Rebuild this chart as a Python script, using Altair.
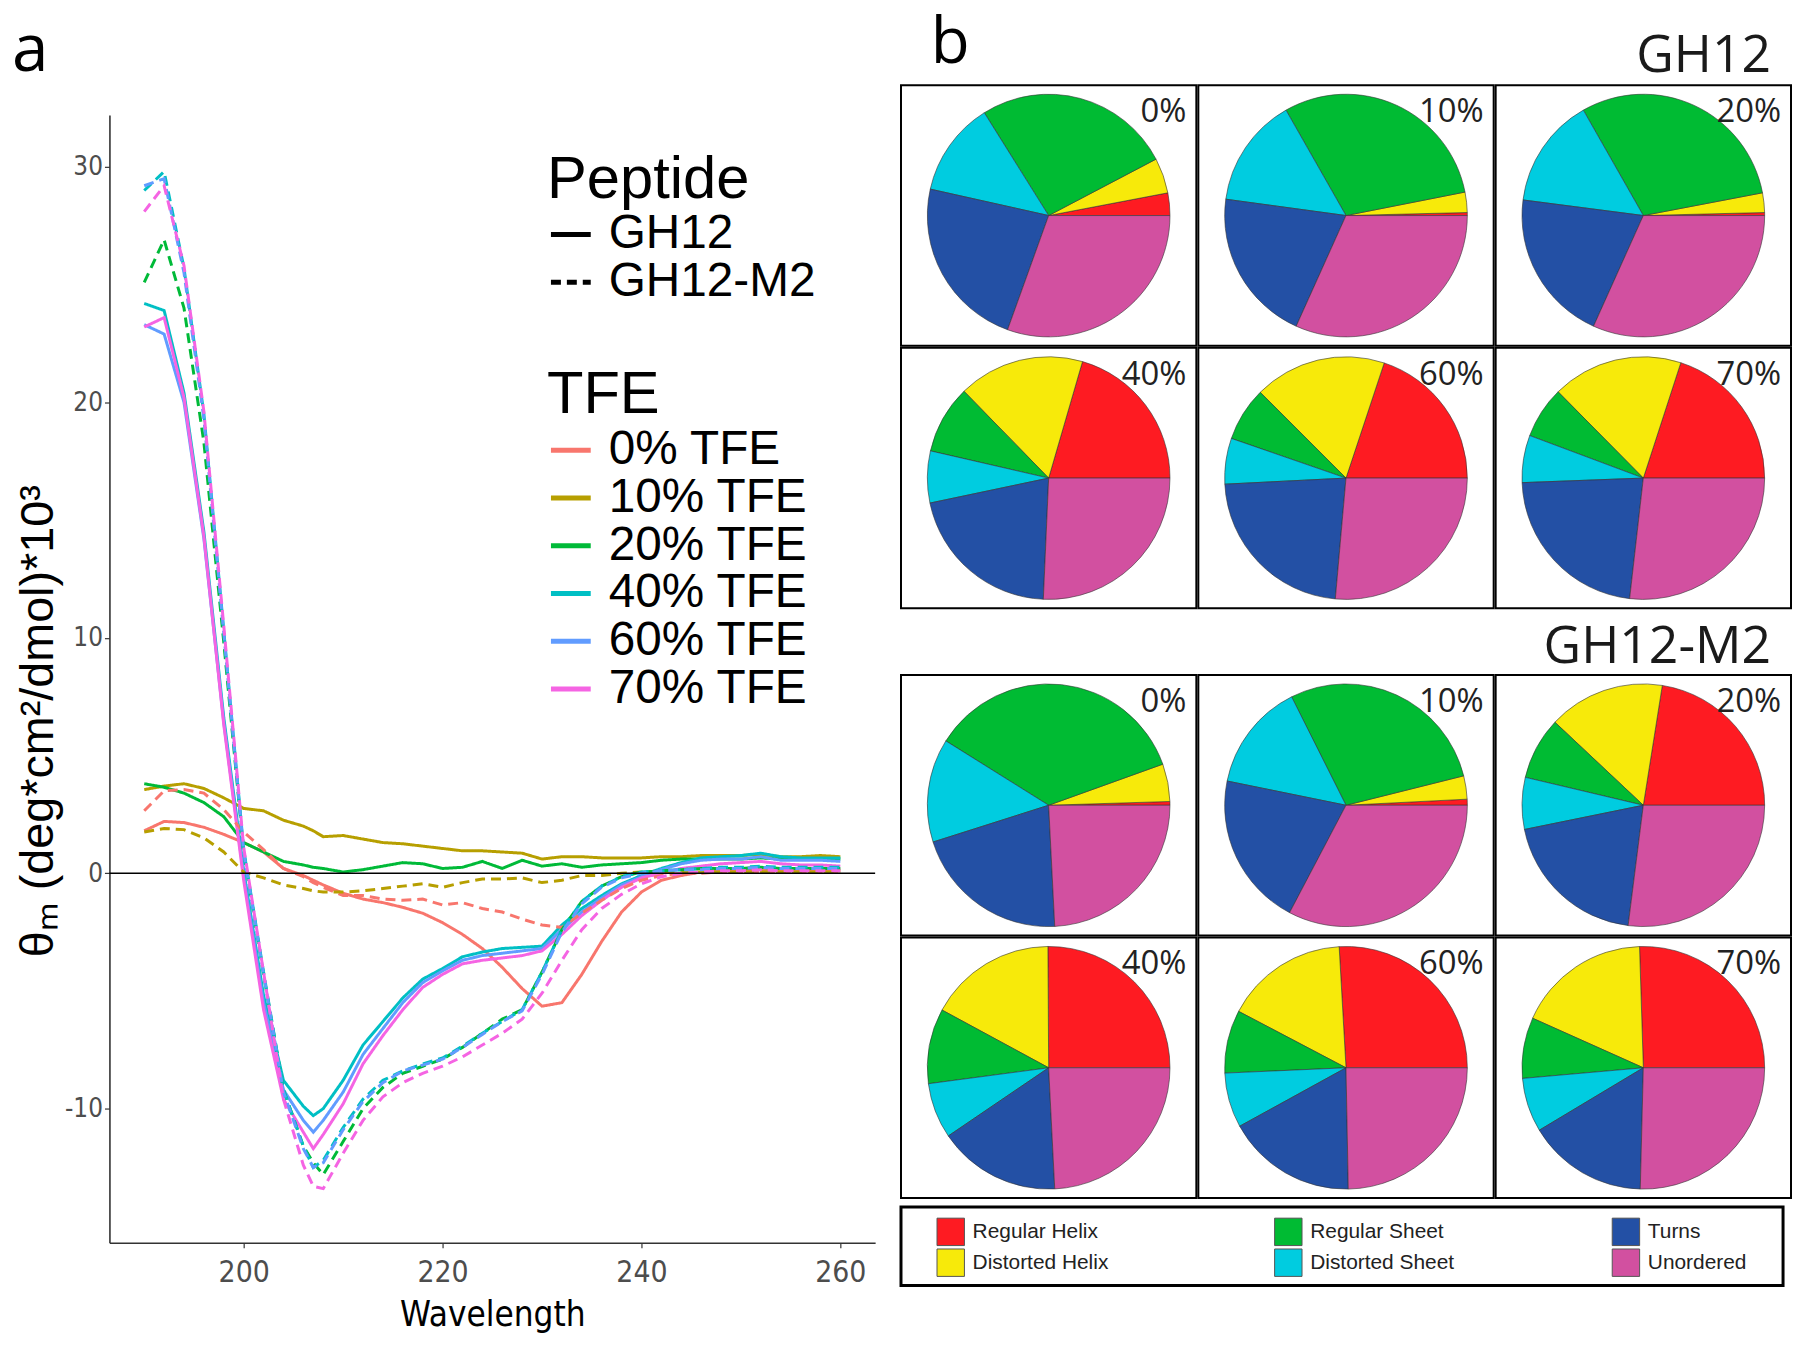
import math
import altair as alt
import pandas as pd

# ---------------- CD spectra data (panel a) ----------------
wavelength = [190, 192, 194, 196, 198, 200, 202, 204, 206, 207, 208, 210, 212, 214, 216, 218, 220,
              222, 224, 226, 228, 230, 232, 234, 236, 238, 240, 242, 244, 246, 248, 250, 252, 254,
              256, 258, 260]

tfe_levels = ["0% TFE", "10% TFE", "20% TFE", "40% TFE", "60% TFE", "70% TFE"]
tfe_colors = ["#F8766D", "#B79F00", "#00BA38", "#00BFC4", "#619CFF", "#F564E3"]
peptides = ["GH12", "GH12-M2"]

gh12_0 = [1.8, 2.2, 2.15, 1.95, 1.65, 1.3, 0.9, 0.2, -0.1, -0.3, -0.5, -0.85, -1.1, -1.25, -1.45, -1.7,
          -2.1, -2.6, -3.2, -4.0, -4.9, -5.65, -5.5, -4.3, -2.9, -1.65, -0.8, -0.3, -0.1, 0.05, 0.1,
          0.15, 0.15, 0.15, 0.15, 0.15, 0.15]
gh12_10 = [3.55, 3.7, 3.8, 3.6, 3.2, 2.75, 2.65, 2.25, 2.0, 1.8, 1.55, 1.6, 1.45, 1.3, 1.25, 1.15, 1.05,
           0.95, 0.95, 0.9, 0.85, 0.6, 0.7, 0.7, 0.65, 0.65, 0.65, 0.7, 0.7, 0.75, 0.75, 0.75, 0.8,
           0.7, 0.7, 0.75, 0.7]
gh12_20 = [3.8, 3.65, 3.4, 3.0, 2.4, 1.3, 0.9, 0.5, 0.35, 0.25, 0.2, 0.05, 0.15, 0.3, 0.45, 0.4, 0.2,
           0.25, 0.5, 0.2, 0.55, 0.3, 0.4, 0.25, 0.35, 0.4, 0.45, 0.55, 0.6, 0.6, 0.6, 0.6, 0.65, 0.6,
           0.6, 0.6, 0.6]
gh12_40 = [24.2, 23.9, 20.4, 14.5, 6.6, 0.1, -5.2, -8.8, -9.9, -10.3, -10.0, -8.8, -7.3, -6.3, -5.3,
           -4.5, -4.05, -3.55, -3.35, -3.2, -3.15, -3.1, -2.2, -1.5, -0.95, -0.45, -0.1, 0.2, 0.45,
           0.65, 0.7, 0.75, 0.85, 0.7, 0.65, 0.65, 0.65]
gh12_60 = [23.3, 22.9, 20.0, 14.2, 6.4, -0.1, -5.5, -9.2, -10.5, -11.0, -10.5, -9.3, -7.7, -6.6, -5.5,
           -4.65, -4.15, -3.7, -3.5, -3.4, -3.3, -3.2, -2.4, -1.65, -1.05, -0.5, -0.15, 0.15, 0.4,
           0.55, 0.6, 0.6, 0.7, 0.55, 0.55, 0.55, 0.5]
gh12_70 = [23.2, 23.6, 20.2, 14.3, 6.3, -0.3, -5.8, -9.6, -11.0, -11.7, -11.1, -9.8, -8.1, -6.9, -5.8,
           -4.85, -4.3, -3.85, -3.7, -3.6, -3.5, -3.3, -2.6, -1.8, -1.15, -0.6, -0.2, 0.0, 0.2, 0.3,
           0.4, 0.45, 0.5, 0.4, 0.35, 0.35, 0.3]

m2_0 = [2.65, 3.5, 3.55, 3.4, 2.7, 1.75, 1.0, 0.2, -0.15, -0.4, -0.6, -0.95, -0.95, -1.1, -1.15, -1.1,
        -1.35, -1.25, -1.5, -1.65, -1.95, -2.2, -2.3, -1.7, -1.15, -0.65, -0.3, -0.1, 0.0, 0.0, 0.05,
        0.05, 0.05, 0.05, 0.05, 0.05, 0.05]
m2_10 = [1.75, 1.9, 1.85, 1.5, 0.9, 0.05, -0.2, -0.5, -0.65, -0.75, -0.8, -0.8, -0.75, -0.65, -0.55,
         -0.45, -0.6, -0.4, -0.25, -0.25, -0.2, -0.4, -0.3, -0.1, -0.1, 0.0, 0.05, 0.05, 0.05, 0.05,
         0.05, 0.05, 0.05, 0.05, 0.05, 0.05, 0.05]
m2_20 = [25.1, 26.9, 24.0, 18.3, 9.8, 0.9, -4.3, -9.2, -11.6, -12.3, -12.8, -11.4, -10.0, -9.1, -8.5,
         -8.2, -7.9, -7.4, -6.8, -6.2, -5.8, -4.2, -2.4, -1.2, -0.55, -0.15, 0.05, 0.1, 0.15, 0.2,
         0.2, 0.2, 0.25, 0.2, 0.2, 0.2, 0.2]
m2_40 = [29.0, 29.8, 25.7, 19.5, 10.3, 1.0, -4.2, -9.2, -11.6, -12.5, -12.2, -10.8, -9.6, -8.8, -8.4,
         -8.1, -7.85, -7.35, -6.8, -6.3, -5.8, -4.2, -2.4, -1.2, -0.55, -0.15, 0.05, 0.1, 0.15, 0.2,
         0.25, 0.25, 0.3, 0.25, 0.25, 0.25, 0.25]
m2_60 = [29.2, 29.5, 25.5, 19.3, 10.2, 0.9, -4.3, -9.3, -11.7, -12.5, -12.3, -10.9, -9.7, -8.9, -8.4,
         -8.15, -7.9, -7.4, -6.85, -6.3, -5.85, -4.3, -2.5, -1.3, -0.6, -0.2, 0.0, 0.1, 0.15, 0.15,
         0.2, 0.2, 0.25, 0.2, 0.2, 0.2, 0.2]
m2_70 = [28.1, 29.2, 25.8, 19.6, 10.5, 1.1, -4.2, -9.6, -12.4, -13.3, -13.4, -11.9, -10.5, -9.5, -8.9,
         -8.5, -8.2, -7.8, -7.3, -6.8, -6.2, -5.1, -3.7, -2.4, -1.5, -0.9, -0.45, -0.15, 0.0, 0.05,
         0.1, 0.1, 0.15, 0.1, 0.1, 0.1, 0.1]

gh12_series = [gh12_0, gh12_10, gh12_20, gh12_40, gh12_60, gh12_70]
m2_series = [m2_0, m2_10, m2_20, m2_40, m2_60, m2_70]

# ---------------- secondary structure data (panel b) ----------------
categories = ["Regular Helix", "Distorted Helix", "Regular Sheet", "Distorted Sheet", "Turns", "Unordered"]
cat_colors = ["#FE1B22", "#F7EA0A", "#00BB33", "#00CCE0", "#2350A5", "#D250A0"]
pie_labels = ["0%", "10%", "20%", "40%", "60%", "70%"]

gh12_pies = [
    [3.0, 4.7, 26.2, 12.6, 23.0, 30.5],
    [0.4, 2.7, 30.1, 14.6, 20.4, 31.7],
    [0.4, 2.6, 30.2, 14.7, 20.3, 31.7],
    [20.5, 16.8, 9.1, 6.9, 21.0, 25.7],
    [19.9, 17.6, 7.2, 6.1, 22.8, 26.4],
    [20.0, 17.4, 6.9, 6.3, 22.6, 26.8],
]
m2_pies = [
    [0.5, 5.0, 35.6, 13.8, 20.9, 24.2],
    [0.8, 3.1, 28.5, 14.4, 20.5, 32.7],
    [22.5, 15.5, 8.3, 6.9, 19.8, 27.0],
    [25.1, 17.0, 10.0, 7.4, 16.3, 24.2],
    [25.9, 16.4, 8.4, 7.3, 17.3, 24.7],
    [25.5, 17.8, 8.1, 7.2, 16.0, 25.4],
]

# legend-box arrangement (column, row) of each structure class
legend_cols = [0, 0, 1, 1, 2, 2]
legend_rows = [0, 1, 0, 1, 0, 1]

# ---------------- fonts / sizes ----------------
NARROW = "Liberation Sans Narrow, DejaVu Sans Condensed, sans-serif"
SANS = "Liberation Sans, Arial, sans-serif"
HUMAN = "Open Sans, Noto Sans, sans-serif"
CELL_W, CELL_H = 297, 262
GRID_W = 3 * CELL_W
PLOT_W, PLOT_H = 770, 1134

# ---------------- panel a ----------------
rows = []
for pep, series in zip(peptides, [gh12_series, m2_series]):
    for tfe, vals in zip(tfe_levels, series):
        for w, v in zip(wavelength, vals):
            rows.append({"Wavelength": w, "theta": v, "TFE": tfe, "Peptide": pep})
cd = pd.DataFrame(rows)

legend_common = dict(
    orient="none", titleFont=SANS, titleFontSize=60, titleFontWeight="normal", titleColor="black",
    titleLimit=600, labelFont=SANS, labelFontSize=48, labelColor="black", labelLimit=600,
    labelOffset=14, symbolType="stroke", symbolSize=1600, symbolStrokeWidth=5, rowPadding=0,
    titlePadding=0, padding=0,
)

axis_common = dict(
    grid=False, domainColor="#333333", domainWidth=1.6, tickColor="#333333", tickSize=5,
    tickWidth=1.2, labelFont=NARROW, labelColor="#4D4D4D",
    labelExpr="'' + datum.value", titleFontWeight="normal", titleColor="black",
)

lines = alt.Chart(cd).mark_line(strokeWidth=3).encode(
    x=alt.X("Wavelength:Q",
            scale=alt.Scale(domain=[186.5, 263.5], nice=False, zero=False),
            axis=alt.Axis(values=[200, 220, 240, 260], title="Wavelength", labelPadding=10,
                          labelFontSize=30, titleFont=NARROW, titleFontSize=35, titlePadding=10,
                          **axis_common)),
    y=alt.Y("theta:Q",
            scale=alt.Scale(domain=[-15.7, 32.2], nice=False, zero=False),
            axis=alt.Axis(values=[-10, 0, 10, 20, 30], title="θₘ (deg*cm²/dmol)*10³", labelPadding=2,
                          labelFontSize=26, titleFont=SANS, titleFontSize=47, titlePadding=2,
                          titleY=PLOT_H / 2 + 42, **axis_common)),
    color=alt.Color("TFE:N", scale=alt.Scale(domain=tfe_levels, range=tfe_colors),
                    legend=alt.Legend(title="TFE", legendX=440, legendY=253, **legend_common)),
    strokeDash=alt.StrokeDash("Peptide:N", scale=alt.Scale(domain=peptides, range=[[1, 0], [10, 6]]),
                              legend=alt.Legend(title="Peptide", legendX=440, legendY=36,
                                                symbolStrokeColor="black", **legend_common)),
)

zero_line = alt.Chart(pd.DataFrame({"level": [0]})).mark_rule(color="black", strokeWidth=1.5).encode(
    y="level:Q"
)

plot_a = alt.layer(lines, zero_line).properties(width=PLOT_W, height=PLOT_H)

header_a = alt.Chart(pd.DataFrame({"t": ["a"]})).mark_text(
    align="left", baseline="top", font=HUMAN, fontSize=66, color="black"
).encode(x=alt.value(-98), y=alt.value(7), text="t:N").properties(width=PLOT_W, height=101)

left = alt.vconcat(header_a, plot_a, spacing=0).resolve_scale(
    color="independent", strokeDash="independent", x="independent", y="independent"
)

# ---------------- panel b ----------------
def pie(values, label):
    df = pd.DataFrame({"Structure": categories, "Fraction": values,
                       "stackorder": list(range(len(categories) - 1, -1, -1))})
    arc = alt.Chart(df).mark_arc(radius=122, stroke="#333333", strokeWidth=0.6).encode(
        theta=alt.Theta("Fraction:Q", stack=True,
                        scale=alt.Scale(range=[math.pi / 2, 5 * math.pi / 2])),
        color=alt.Color("Structure:N", scale=alt.Scale(domain=categories, range=cat_colors),
                        legend=None),
        order=alt.Order("stackorder:Q", sort="ascending"),
    )
    txt = alt.Chart(pd.DataFrame({"label": [label]})).mark_text(
        align="right", baseline="alphabetic", font=HUMAN, fontSize=33, color="#222222"
    ).encode(x=alt.value(CELL_W - 10), y=alt.value(37), text="label:N")
    return alt.layer(arc, txt).properties(
        width=CELL_W, height=CELL_H, view=alt.ViewBackground(stroke="black", strokeWidth=2)
    )


def grid(all_values):
    cells = [pie(v, l) for v, l in zip(all_values, pie_labels)]
    r1 = alt.hconcat(*cells[:3], spacing=0).resolve_scale(theta="independent")
    r2 = alt.hconcat(*cells[3:], spacing=0).resolve_scale(theta="independent")
    return alt.vconcat(r1, r2, spacing=0).resolve_scale(theta="independent")


def header(title, height, baseline_y, with_letter=False):
    layers = []
    if with_letter:
        layers.append(alt.Chart(pd.DataFrame({"t": ["b"]})).mark_text(
            align="left", baseline="top", font=HUMAN, fontSize=64, color="black"
        ).encode(x=alt.value(30), y=alt.value(0), text="t:N"))
    layers.append(alt.Chart(pd.DataFrame({"t": [title]})).mark_text(
        align="right", baseline="alphabetic", font=HUMAN, fontSize=52, color="#1a1a1a"
    ).encode(x=alt.value(GRID_W - 16), y=alt.value(baseline_y), text="t:N"))
    return alt.layer(*layers).properties(width=GRID_W, height=height)


leg_df = pd.DataFrame({"Structure": categories, "col": legend_cols, "row": legend_rows})
leg_x = alt.X("col:Q", axis=None, scale=alt.Scale(domain=[0, 2], range=[50, 729]))
leg_y = alt.Y("row:Q", axis=None, scale=alt.Scale(domain=[0, 1], range=[25, 56]))
leg_sq = alt.Chart(leg_df).mark_square(size=760, stroke="#555555", strokeWidth=1, opacity=1).encode(
    x=leg_x, y=leg_y,
    color=alt.Color("Structure:N", scale=alt.Scale(domain=categories, range=cat_colors), legend=None),
)
leg_tx = alt.Chart(leg_df).mark_text(
    align="left", baseline="middle", dx=22, font=SANS, fontSize=21, color="#222222"
).encode(x=leg_x, y=leg_y, text="Structure:N")
legend_box = alt.layer(leg_sq, leg_tx).properties(
    width=GRID_W - 4, height=79, view=alt.ViewBackground(stroke="black", strokeWidth=3)
)

bottom = alt.vconcat(grid(m2_pies), legend_box, spacing=6).resolve_scale(theta="independent")
right = alt.vconcat(
    header("GH12", 71, 60, with_letter=True),
    grid(gh12_pies),
    header("GH12-M2", 61, 53),
    bottom,
    spacing=0,
).resolve_scale(theta="independent")

chart = alt.hconcat(left, right, spacing=22).resolve_scale(
    color="independent", theta="independent", x="independent", y="independent",
    strokeDash="independent"
).properties(padding={"left": 3, "top": 0, "right": 0, "bottom": 0}).configure_view(stroke="transparent")

chart.save("out.html", embed_options={"renderer": "svg", "actions": False})
